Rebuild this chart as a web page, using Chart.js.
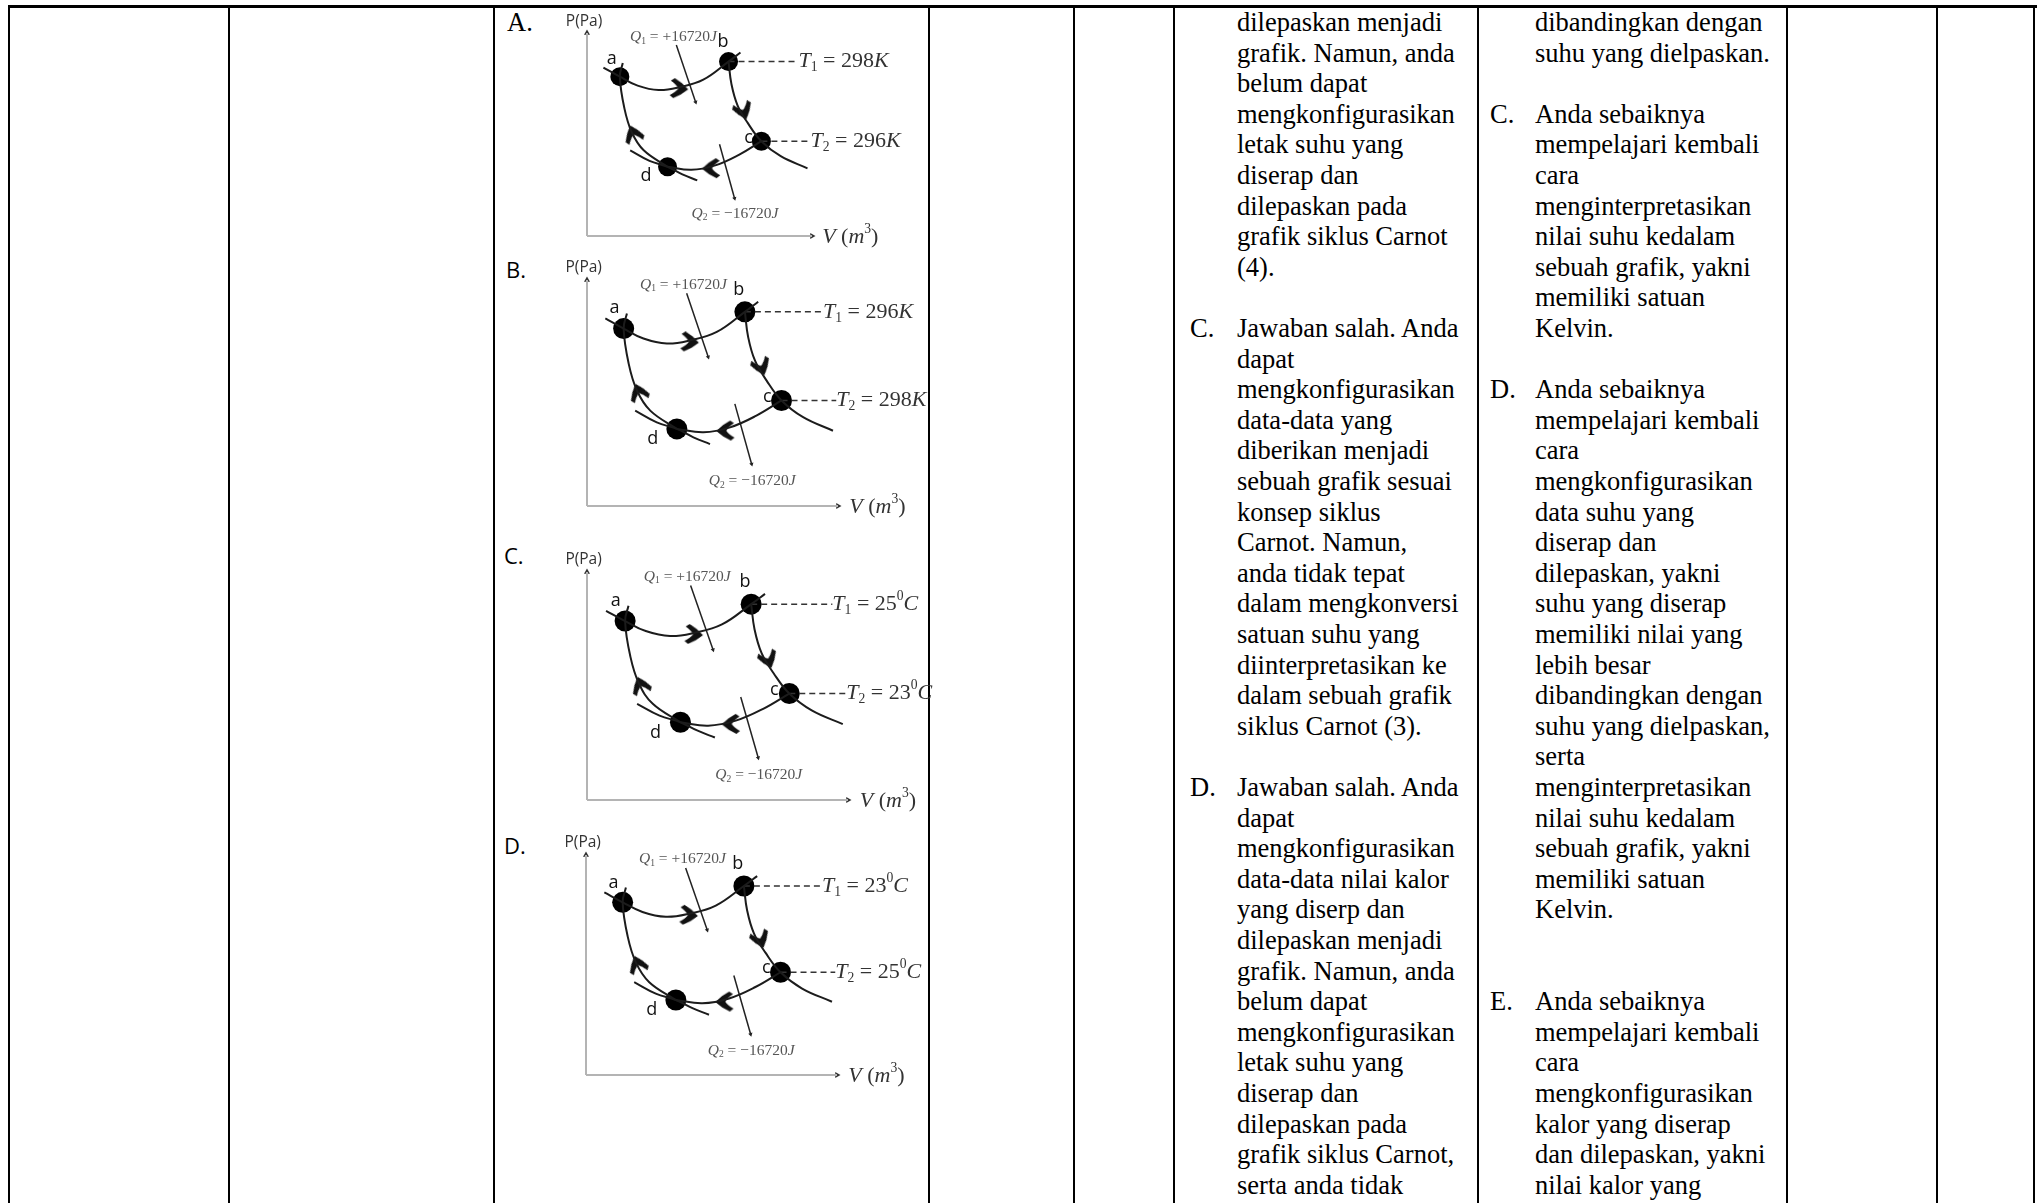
<!DOCTYPE html>
<html>
<head>
<meta charset="utf-8">
<script src="https://cdn.jsdelivr.net/npm/chart.js@4.4.1/dist/chart.umd.min.js"></script>
<style>
  html, body { margin: 0; padding: 0; background: #fff; }
  #page { position: relative; width: 2037px; height: 1203px; overflow: hidden;
          font-family: "Liberation Serif", "Times New Roman", serif; color: #000; }
  .vline { position: absolute; top: 5px; bottom: 0; width: 2px; background: #000; }
  .hline { position: absolute; left: 8px; right: 0; top: 5px; height: 3px; background: #000; }
  .ln { position: absolute; white-space: nowrap; font-size: 26.5px; line-height: 30.6px; height: 30.6px; }
  .opt { position: absolute; white-space: nowrap; line-height: 30px; }
  canvas { position: absolute; }
</style>
</head>
<body>
<div id="page"></div>
<script>
// ---- Data siklus Carnot (satuan bebas: V 0..10, P 0..10) ----
const optionLetters = ['A.', 'B.', 'C.', 'D.'];
const t1Values = ['298', '296', '25', '23'];
const t2Values = ['296', '298', '23', '25'];
const tUnits = ['K', 'K', 'C', 'C'];
const q1Value = '+16720';
const q2Value = '\u221216720';

const stateNames = ['a', 'b', 'c', 'd'];
const stateV = [1.46, 6.29, 7.75, 3.58];
const stateP = [7.85, 8.59, 4.67, 3.41];

// isoterm atas a -> b
const hotV = [0.73, 1.46, 2.25, 3.18, 4.11, 5.17, 6.29, 6.82];
const hotP = [8.30, 7.85, 7.41, 7.19, 7.33, 7.70, 8.59, 9.04];
// adiabatik b -> c
const bcV = [6.29, 6.42, 6.69, 7.15, 7.75, 8.61, 9.80];
const bcP = [8.59, 7.48, 6.44, 5.56, 4.67, 3.93, 3.33];
// isoterm bawah c -> d
const coldV = [7.75, 6.75, 5.70, 4.64, 3.58];
const coldP = [4.67, 4.00, 3.48, 3.26, 3.41];
// adiabatik d -> a
const daV = [3.58, 2.52, 1.99, 1.66, 1.46, 1.59];
const daP = [3.41, 4.22, 5.11, 6.30, 7.85, 8.52];
// kurva yang lewat d
const tailV = [1.92, 2.78, 3.58, 4.24, 4.90];
const tailP = [4.22, 3.70, 3.41, 3.04, 2.74];

// panah arah siklus
const chevV = [4.11, 6.95, 5.50, 2.05];
const chevP = [7.26, 6.15, 3.33, 5.04];

// panah kalor
const q1V = [3.97, 4.83];
const q1P = [9.41, 6.59];
const q2V = [5.89, 6.56];
const q2P = [4.52, 1.85];

// garis putus-putus ke label suhu
const t1DashEnd = 9.40;
const t2DashEnd = 9.93;

// sumbu
const axisMax = 10;

// ---- Teks tabel ----
const col6 = [
  ['', 'dilepaskan menjadi'], ['', 'grafik. Namun, anda'], ['', 'belum dapat'],
  ['', 'mengkonfigurasikan'], ['', 'letak suhu yang'], ['', 'diserap dan'],
  ['', 'dilepaskan pada'], ['', 'grafik siklus Carnot'], ['', '(4).'], ['', ''],
  ['C.', 'Jawaban salah. Anda'], ['', 'dapat'], ['', 'mengkonfigurasikan'],
  ['', 'data-data yang'], ['', 'diberikan menjadi'], ['', 'sebuah grafik sesuai'],
  ['', 'konsep siklus'], ['', 'Carnot. Namun,'], ['', 'anda tidak tepat'],
  ['', 'dalam mengkonversi'], ['', 'satuan suhu yang'], ['', 'diinterpretasikan ke'],
  ['', 'dalam sebuah grafik'], ['', 'siklus Carnot (3).'], ['', ''],
  ['D.', 'Jawaban salah. Anda'], ['', 'dapat'], ['', 'mengkonfigurasikan'],
  ['', 'data-data nilai kalor'], ['', 'yang diserp dan'], ['', 'dilepaskan menjadi'],
  ['', 'grafik. Namun, anda'], ['', 'belum dapat'], ['', 'mengkonfigurasikan'],
  ['', 'letak suhu yang'], ['', 'diserap dan'], ['', 'dilepaskan pada'],
  ['', 'grafik siklus Carnot,'], ['', 'serta anda tidak']
];
const col7 = [
  ['', 'dibandingkan dengan'], ['', 'suhu yang dielpaskan.'], ['', ''],
  ['C.', 'Anda sebaiknya'], ['', 'mempelajari kembali'], ['', 'cara'],
  ['', 'menginterpretasikan'], ['', 'nilai suhu kedalam'], ['', 'sebuah grafik, yakni'],
  ['', 'memiliki satuan'], ['', 'Kelvin.'], ['', ''],
  ['D.', 'Anda sebaiknya'], ['', 'mempelajari kembali'], ['', 'cara'],
  ['', 'mengkonfigurasikan'], ['', 'data suhu yang'], ['', 'diserap dan'],
  ['', 'dilepaskan, yakni'], ['', 'suhu yang diserap'], ['', 'memiliki nilai yang'],
  ['', 'lebih besar'], ['', 'dibandingkan dengan'], ['', 'suhu yang dielpaskan,'],
  ['', 'serta'], ['', 'menginterpretasikan'], ['', 'nilai suhu kedalam'],
  ['', 'sebuah grafik, yakni'], ['', 'memiliki satuan'], ['', 'Kelvin.'], ['', ''], ['', ''],
  ['E.', 'Anda sebaiknya'], ['', 'mempelajari kembali'], ['', 'cara'],
  ['', 'mengkonfigurasikan'], ['', 'kalor yang diserap'], ['', 'dan dilepaskan, yakni'],
  ['', 'nilai kalor yang']
];

const page = document.getElementById('page');

// garis tabel
const colLines = [9, 229, 494, 929, 1074, 1174, 1478, 1787, 1937, 2034];
const hl = document.createElement('div'); hl.className = 'hline'; page.appendChild(hl);
colLines.forEach(x => {
  const d = document.createElement('div');
  d.className = 'vline'; d.style.left = (x - 1) + 'px';
  page.appendChild(d);
});

// teks kolom
function writeColumn(lines, letterX, textX) {
  const top0 = 7, lh = 30.6;
  lines.forEach((l, i) => {
    if (l[0]) {
      const a = document.createElement('div');
      a.className = 'ln'; a.textContent = l[0];
      a.style.left = letterX + 'px'; a.style.top = (top0 + i * lh) + 'px';
      page.appendChild(a);
    }
    if (l[1]) {
      const t = document.createElement('div');
      t.className = 'ln'; t.textContent = l[1];
      t.style.left = textX + 'px'; t.style.top = (top0 + i * lh) + 'px';
      page.appendChild(t);
    }
  });
}
writeColumn(col6, 1190, 1237);
writeColumn(col7, 1490, 1535);

// huruf pilihan A-D
const letterPos = [[507, 7], [506, 254], [504, 540], [504, 830]];
optionLetters.forEach((s, i) => {
  const d = document.createElement('div');
  d.className = 'opt'; d.textContent = s;
  d.style.left = letterPos[i][0] + 'px'; d.style.top = letterPos[i][1] + 'px';
  if (i === 0) { d.style.fontSize = '26.5px'; }
  else { d.style.fontFamily = '"Open Sans", "Liberation Sans", sans-serif'; d.style.fontSize = '22px'; }
  page.appendChild(d);
});

// ---- Gambar siklus ----
// panah tebal berbentuk chevron (menghadap ke atas, diputar per titik)
function makeChevron(s) {
  const c = document.createElement('canvas');
  c.width = s; c.height = s;
  const g = c.getContext('2d');
  g.fillStyle = '#111';
  g.beginPath();
  g.moveTo(s * 0.5, s * 0.06);
  g.quadraticCurveTo(s * 0.82, s * 0.38, s * 1.0, s * 0.78);
  g.lineTo(s * 0.86, s * 0.96);
  g.quadraticCurveTo(s * 0.68, s * 0.66, s * 0.5, s * 0.56);
  g.quadraticCurveTo(s * 0.32, s * 0.66, s * 0.14, s * 0.96);
  g.lineTo(s * 0.0, s * 0.78);
  g.quadraticCurveTo(s * 0.18, s * 0.38, s * 0.5, s * 0.06);
  g.closePath();
  g.fill();
  return c;
}
const chevronImg = makeChevron(20);

function drawRich(ctx, x, y, segs, size, color, align) {
  const fam = '"Liberation Serif", "Times New Roman", serif';
  const fontOf = s => {
    const sz = (s.sub || s.sup) ? size * 0.62 : size;
    return (s.it ? 'italic ' : '') + sz + 'px ' + (s.sans ? '"Open Sans", "Liberation Sans", sans-serif' : fam);
  };
  let w = 0;
  segs.forEach(s => { ctx.font = fontOf(s); w += ctx.measureText(s.t).width; });
  let cx = align === 'center' ? x - w / 2 : x;
  ctx.save();
  ctx.fillStyle = color;
  ctx.textBaseline = 'middle';
  ctx.textAlign = 'left';
  segs.forEach(s => {
    ctx.font = fontOf(s);
    let dy = 0;
    if (s.sub) dy = size * 0.28;
    if (s.sup) dy = -size * 0.35;
    ctx.fillText(s.t, cx, y + dy);
    cx += ctx.measureText(s.t).width;
  });
  ctx.restore();
}

const textPlugin = {
  id: 'carnotText',
  afterDatasetsDraw(chart, args, opts) {
    const { ctx, scales: { x, y } } = chart;
    opts.items.forEach(it => {
      drawRich(ctx, x.getPixelForValue(it.v), y.getPixelForValue(it.p), it.segs, it.size, it.color, it.align);
    });
  }
};

const pts = (vs, ps) => vs.map((v, i) => ({ x: v, y: ps[i] }));

// geometri tiap gambar di halaman (piksel)
const geom = [
  { ox: 587, oy: 236, xEnd: 812, yTop: 33, top: 8, dot: 9.5 },
  { ox: 587, oy: 506, xEnd: 838, yTop: 280, top: 245, dot: 10.5 },
  { ox: 587, oy: 800, xEnd: 848, yTop: 572, top: 535, dot: 10.5 },
  { ox: 586, oy: 1075, xEnd: 837, yTop: 855, top: 820, dot: 10.5 }
];
const canvasLeft = 540, canvasWidth = 420;

function tempSegs(idx, which) {
  const val = which === 1 ? t1Values[idx] : t2Values[idx];
  const segs = [{ t: 'T', it: true }, { t: String(which), sub: true }, { t: ' = ' + val }];
  if (tUnits[idx] === 'C') segs.push({ t: '0', sup: true }, { t: 'C', it: true });
  else segs.push({ t: 'K', it: true });
  return segs;
}

geom.forEach((g, i) => {
  const h = g.oy + 24 - g.top;
  const cv = document.createElement('canvas');
  cv.width = canvasWidth; cv.height = h;
  cv.style.left = canvasLeft + 'px'; cv.style.top = g.top + 'px';
  cv.style.width = canvasWidth + 'px'; cv.style.height = h + 'px';
  page.appendChild(cv);

  const kx = (g.xEnd - g.ox) / axisMax;
  const ky = (g.oy - g.yTop) / axisMax;
  const xmin = -(g.ox - canvasLeft) / kx;
  const xmax = xmin + canvasWidth / kx;
  const ymax = (g.oy - g.top) / ky;
  const ymin = ymax - h / ky;

  const curve = (data) => ({
    data, showLine: true, tension: 0.4, borderColor: '#1c1c1c', borderWidth: 2,
    pointRadius: 0, pointHoverRadius: 0, fill: false, clip: false
  });

  new Chart(cv, {
    type: 'scatter',
    data: {
      datasets: [
        // sumbu
        { data: [{ x: 0, y: 0 }, { x: axisMax, y: 0 }], showLine: true, borderColor: '#b4b4b4', borderWidth: 2, pointRadius: 0, clip: false },
        { data: [{ x: 0, y: 0 }, { x: 0, y: axisMax }], showLine: true, borderColor: '#b4b4b4', borderWidth: 2, pointRadius: 0, clip: false },
        { data: [{ x: axisMax, y: 0 }, { x: 0, y: axisMax }], pointStyle: 'triangle', pointRotation: [90, 0],
          pointRadius: 3.5, backgroundColor: '#333', borderColor: '#333', borderWidth: 0, clip: false },
        // kurva siklus
        curve(pts(hotV, hotP)),
        curve(pts(bcV, bcP)),
        curve(pts(coldV, coldP)),
        curve(pts(daV, daP)),
        curve(pts(tailV, tailP)),
        // garis putus-putus
        { data: [{ x: stateV[1], y: stateP[1] }, { x: t1DashEnd, y: stateP[1] }], showLine: true, borderDash: [6, 4],
          borderColor: '#333', borderWidth: 1.5, pointRadius: 0, clip: false },
        { data: [{ x: stateV[2], y: stateP[2] }, { x: t2DashEnd, y: stateP[2] }], showLine: true, borderDash: [6, 4],
          borderColor: '#333', borderWidth: 1.5, pointRadius: 0, clip: false },
        // panah kalor
        { data: pts(q1V, q1P), showLine: true, borderColor: '#222', borderWidth: 1.5, pointRadius: 0, clip: false },
        { data: pts(q2V, q2P), showLine: true, borderColor: '#222', borderWidth: 1.5, pointRadius: 0, clip: false },
        { data: [{ x: q1V[1], y: q1P[1] }, { x: q2V[1], y: q2P[1] }], pointStyle: 'triangle', pointRotation: [162, 165],
          pointRadius: 2.5, backgroundColor: '#222', borderColor: '#222', borderWidth: 0, clip: false },
        // panah arah
        { data: pts(chevV, chevP), pointStyle: chevronImg, pointRotation: [95, 160, 268, 340], pointRadius: 10, clip: false },
        // titik keadaan
        { data: pts(stateV, stateP), pointRadius: g.dot, backgroundColor: '#000', borderColor: '#000', borderWidth: 0, clip: false }
      ]
    },
    options: {
      responsive: false,
      animation: false,
      events: [],
      layout: { padding: 0, autoPadding: false },
      scales: {
        x: { type: 'linear', display: false, min: xmin, max: xmax, bounds: 'data' },
        y: { type: 'linear', display: false, min: ymin, max: ymax, bounds: 'data' }
      },
      plugins: {
        legend: { display: false },
        tooltip: { enabled: false },
        carnotText: {
          items: [
            { v: -0.13, p: 10.55, segs: [{ t: 'P(Pa)', sans: true }], size: 15.5, color: '#333', align: 'center' },
            { v: 10.45, p: -0.07, segs: [{ t: 'V', it: true }, { t: ' (' }, { t: 'm', it: true }, { t: '3', sup: true }, { t: ')' }], size: 22, color: '#333', align: 'left' },
            { v: 1.10, p: 8.75, segs: [{ t: stateNames[0], sans: true }], size: 18, color: '#111', align: 'center' },
            { v: 6.05, p: 9.58, segs: [{ t: stateNames[1], sans: true }], size: 18, color: '#111', align: 'center' },
            { v: 7.18, p: 4.85, segs: [{ t: stateNames[2], sans: true }], size: 18, color: '#111', align: 'center' },
            { v: 2.62, p: 2.95, segs: [{ t: stateNames[3], sans: true }], size: 18, color: '#111', align: 'center' },
            { v: 3.84, p: 9.80, segs: [{ t: 'Q', it: true }, { t: '1', sub: true }, { t: ' = ' + q1Value }, { t: 'J', it: true }], size: 15.5, color: '#555', align: 'center' },
            { v: 6.58, p: 1.11, segs: [{ t: 'Q', it: true }, { t: '2', sub: true }, { t: ' = ' + q2Value }, { t: 'J', it: true }], size: 15.5, color: '#555', align: 'center' },
            { v: t1DashEnd, p: stateP[1], segs: tempSegs(i, 1), size: 22, color: '#333', align: 'left' },
            { v: t2DashEnd, p: stateP[2], segs: tempSegs(i, 2), size: 22, color: '#333', align: 'left' }
          ]
        }
      }
    },
    plugins: [textPlugin]
  });
});
</script>
</body>
</html>
